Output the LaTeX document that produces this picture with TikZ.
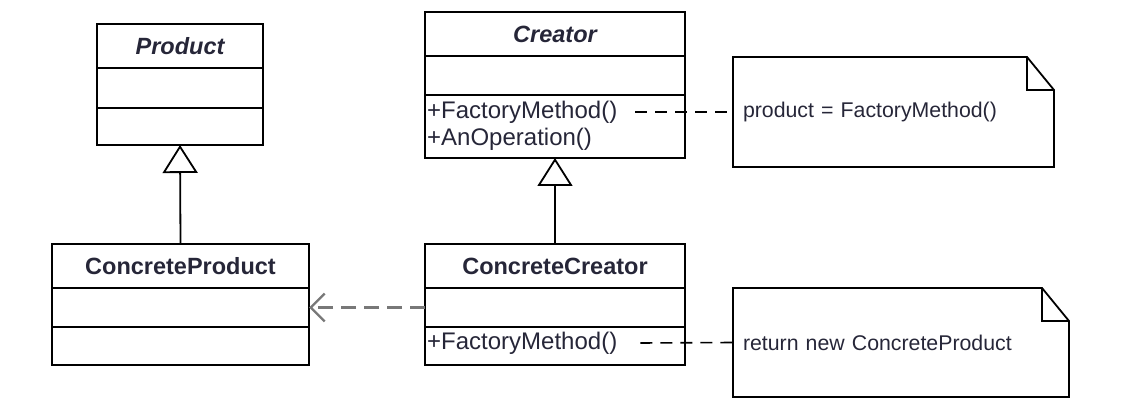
\documentclass[tikz,border=0pt]{standalone}
\usepackage{fontspec}
\setmainfont{Liberation Sans}
\usetikzlibrary{positioning, arrows.meta}
\definecolor{umltext}{RGB}{38,38,56}
\definecolor{umldash}{RGB}{120,120,120}

\begin{document}
\begin{tikzpicture}[
    x = 1pt, y = -1pt,
    compart/.style = {
      rectangle, draw, line width = 1.8pt, inner sep = 0pt, outer sep = 0pt,
      text = umltext
    },
    classname/.style = {
      compart, font = \fontsize{23.5}{28}\selectfont\bfseries
    },
    method/.style = {
      anchor = west, inner sep = 0pt, text = umltext,
      font = \fontsize{24}{27}\selectfont
    },
    notebox/.style = {
      rectangle, draw = none, inner xsep = 10pt, inner ysep = 0pt, outer sep = 0pt,
      align = left, text = umltext, font = \fontsize{21.3}{25}\selectfont
    },
    inherit/.style = {
      -{Triangle[open, length = 28pt, width = 35pt]}, line width = 1.8pt
    },
    depend/.style = {
      -{Straight Barb[length = 14pt, width = 28pt]}, line width = 2.4pt,
      draw = umldash, dash pattern = on 15pt off 8pt
    },
    noteline/.style = {
      line width = 1.6pt, dash pattern = on 12pt off 8pt
    },
    ]

    \useasboundingbox (0,0) rectangle (1122,414);

    % draw abstract classes
    \node  [classname, minimum width = 166pt, minimum height = 44pt]  (product)  at  (180,46)  {\itshape Product};
    \node  [compart, minimum width = 166pt, minimum height = 40pt]  (product-a)  [below = 0pt of product]  {};
    \node  [compart, minimum width = 166pt, minimum height = 37pt]  (product-m)  [below = 0pt of product-a]  {};

    \node  [classname, minimum width = 260pt, minimum height = 44pt]  (creator)  at  (555,34)  {\itshape Creator};
    \node  [compart, minimum width = 260pt, minimum height = 39pt]  (creator-a)  [below = 0pt of creator]  {};
    \node  [compart, minimum width = 260pt, minimum height = 63pt]  (creator-m)  [below = 0pt of creator-a]  {};

    % draw concrete classes
    \node  [classname, minimum width = 257pt, minimum height = 44pt]  (cproduct)  at  (180.5,266)  {ConcreteProduct};
    \node  [compart, minimum width = 257pt, minimum height = 39pt]  (cproduct-a)  [below = 0pt of cproduct]  {};
    \node  [compart, minimum width = 257pt, minimum height = 38pt]  (cproduct-m)  [below = 0pt of cproduct-a]  {};

    \node  [classname, minimum width = 260pt, minimum height = 44pt]  (ccreator)  at  (555,266)  {ConcreteCreator};
    \node  [compart, minimum width = 260pt, minimum height = 39pt]  (ccreator-a)  [below = 0pt of ccreator]  {};
    \node  [compart, minimum width = 260pt, minimum height = 38pt]  (ccreator-m)  [below = 0pt of ccreator-a]  {};

    % draw methods
    \node  [method]  (fm1)  at  ([xshift = 2pt, yshift = -17pt]creator-m.north west)  {+FactoryMethod()};
    \node  [method]  (op1)  at  ([xshift = 2pt, yshift = -44pt]creator-m.north west)  {+AnOperation()};
    \node  [method]  (fm2)  at  ([xshift = 2pt, yshift = -16pt]ccreator-m.north west)  {+FactoryMethod()};

    % draw notes
    \node  [notebox, text width = 301pt, minimum height = 110pt]  (note1)  at  (893.5,112)  {product = FactoryMethod()};
    \node  [notebox, text width = 316pt, minimum height = 109pt]  (note2)  at  (901,342.5)  {return new ConcreteProduct};

    \foreach \n in {note1, note2}
    \draw  [line width = 1.8pt]  (\n.north west) -- ([xshift = -27pt]\n.north east)
      -- ([yshift = -33pt]\n.north east) -- (\n.south east) -- (\n.south west) -- cycle
      ([xshift = -27pt]\n.north east) |- ([yshift = -33pt]\n.north east);

    % draw paths
    \draw  [inherit]  (cproduct.north)  --  (product-m.south);
    \draw  [inherit]  (ccreator.north)  --  (creator-m.south);
    \draw  [depend]  (ccreator-a.west)  --  (cproduct-a.east);
    \draw  [noteline]  ([xshift = 18pt]fm1.east)  --  (note1.west);
    \draw  [noteline]  ([xshift = 23pt]fm2.east)  --  (note2.west);
\end{tikzpicture}
\end{document}
